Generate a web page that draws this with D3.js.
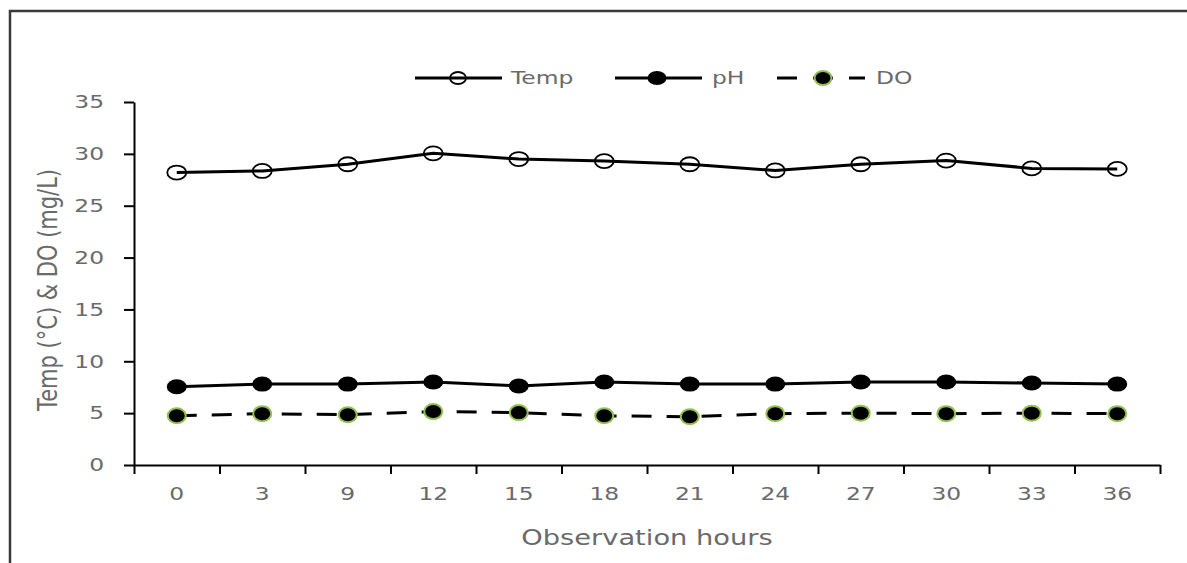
<!DOCTYPE html>
<html>
<head>
<meta charset="utf-8">
<script src="https://cdn.jsdelivr.net/npm/d3@7/dist/d3.min.js"></script>
<style>
  body { margin: 0; background: #fff; }
  svg { display: block; }
</style>
</head>
<body>
<svg id="chart" width="1187" height="563"></svg>
<script>
// ─── Data ────────────────────────────────────────────────────────────────────
const hours = ['0', '3', '9', '12', '15', '18', '21', '24', '27', '30', '33', '36'];
const tempValues = [28.2, 28.35, 29.0, 30.05, 29.5, 29.3, 29.0, 28.4, 29.0, 29.35, 28.6, 28.55];
const phValues = [7.55, 7.8, 7.8, 8.0, 7.62, 8.0, 7.8, 7.8, 8.0, 8.0, 7.9, 7.8];
const doValues = [4.75, 4.95, 4.85, 5.15, 5.05, 4.75, 4.65, 4.95, 5.0, 4.95, 5.0, 4.95];
const yTicks = [0, 5, 10, 15, 20, 25, 30, 35];

// ─── Layout ──────────────────────────────────────────────────────────────────
const W = 1187, H = 563;
const PLOT = { left: 134, right: 1160, top: 102, bottom: 465 };
const SX = 1.3;              // the source picture is stretched sideways
const GREY = '#6a6a6a';
const FONT = '"DejaVu Sans", Verdana, sans-serif';
const GREEN = '#92c050';

const svg = d3.select('#chart');

// frame (top and left edges of the original chart box)
svg.append('path')
  .attr('d', `M10,${H} V11 H${W}`)
  .attr('fill', 'none')
  .attr('stroke', '#3a3a3a')
  .attr('stroke-width', 2.5);

// ─── Scales ──────────────────────────────────────────────────────────────────
const x = d3.scaleBand().domain(hours).range([PLOT.left, PLOT.right]).padding(0);
const xEdge = d3.scaleLinear().domain([0, hours.length]).range([PLOT.left, PLOT.right]);
const y = d3.scaleLinear().domain([0, 35]).range([PLOT.bottom, PLOT.top]);
const cx = d => x(d) + x.bandwidth() / 2;

// stretched text helper
function label(g, tx, ty, str, size, anchor) {
  return g.append('text')
    .attr('transform', `translate(${tx},${ty}) scale(${SX},1)`)
    .attr('text-anchor', anchor || 'start')
    .style('font-family', FONT)
    .style('font-size', size + 'px')
    .style('fill', GREY)
    .text(str);
}

// ─── Axes ────────────────────────────────────────────────────────────────────
const yAxis = svg.append('g')
  .attr('transform', `translate(${PLOT.left},0)`)
  .call(d3.axisLeft(y).tickValues(yTicks).tickSize(10).tickSizeOuter(0).tickFormat(d3.format('d')));
yAxis.selectAll('path, line').attr('stroke', '#000').attr('stroke-width', 2);
yAxis.selectAll('text')
  .attr('x', -30 / SX)
  .attr('transform', `scale(${SX},1)`)
  .style('font-family', FONT)
  .style('font-size', '18px')
  .style('fill', GREY);

const xTicks = svg.append('g')
  .attr('transform', `translate(0,${PLOT.bottom})`)
  .call(d3.axisBottom(xEdge).tickValues(d3.range(hours.length + 1)).tickSize(9).tickSizeOuter(0).tickFormat(''));
xTicks.selectAll('path, line').attr('stroke', '#000').attr('stroke-width', 2);

const xLabels = svg.append('g')
  .attr('transform', `translate(0,${PLOT.bottom})`)
  .call(d3.axisBottom(x).tickSize(0).tickPadding(22));
xLabels.select('.domain').remove();
xLabels.selectAll('text')
  .attr('transform', `scale(${SX},1)`)
  .style('font-family', FONT)
  .style('font-size', '18px')
  .style('fill', GREY);

// axis titles
label(svg, (PLOT.left + PLOT.right) / 2, 545, 'Observation hours', 21, 'middle');
svg.append('text')
  .attr('transform', `translate(57,290) scale(${SX},1) rotate(-90)`)
  .attr('text-anchor', 'middle')
  .style('font-family', FONT)
  .style('font-size', '21px')
  .style('fill', GREY)
  .text('Temp (°C) & DO (mg/L)');

// ─── Series ──────────────────────────────────────────────────────────────────
const line = d3.line().x((d, i) => cx(hours[i])).y(d => y(d));

svg.append('path').datum(tempValues)
  .attr('d', line).attr('fill', 'none').attr('stroke', '#000').attr('stroke-width', 3);
svg.append('path').datum(phValues)
  .attr('d', line).attr('fill', 'none').attr('stroke', '#000').attr('stroke-width', 3);
svg.append('path').datum(doValues)
  .attr('d', line).attr('fill', 'none').attr('stroke', '#000').attr('stroke-width', 3)
  .attr('stroke-dasharray', '20,15');

svg.append('g').selectAll('ellipse').data(tempValues).join('ellipse')
  .attr('cx', (d, i) => cx(hours[i])).attr('cy', d => y(d))
  .attr('rx', 9.5).attr('ry', 7)
  .attr('fill', 'none').attr('stroke', '#000').attr('stroke-width', 1.8);

svg.append('g').selectAll('ellipse').data(phValues).join('ellipse')
  .attr('cx', (d, i) => cx(hours[i])).attr('cy', d => y(d))
  .attr('rx', 10).attr('ry', 7.5)
  .attr('fill', '#000');

svg.append('g').selectAll('ellipse').data(doValues).join('ellipse')
  .attr('cx', (d, i) => cx(hours[i])).attr('cy', d => y(d))
  .attr('rx', 9).attr('ry', 7.5)
  .attr('fill', '#000').attr('stroke', GREEN).attr('stroke-width', 2);

// ─── Legend ──────────────────────────────────────────────────────────────────
const LEG_Y = 78;
const legend = svg.append('g');

// Temp
legend.append('line').attr('x1', 415).attr('x2', 502).attr('y1', LEG_Y).attr('y2', LEG_Y)
  .attr('stroke', '#000').attr('stroke-width', 3);
legend.append('ellipse').attr('cx', 458).attr('cy', LEG_Y).attr('rx', 8).attr('ry', 6)
  .attr('fill', 'none').attr('stroke', '#000').attr('stroke-width', 1.8);
label(legend, 511, LEG_Y + 6, 'Temp', 18);

// pH
legend.append('line').attr('x1', 615).attr('x2', 702).attr('y1', LEG_Y).attr('y2', LEG_Y)
  .attr('stroke', '#000').attr('stroke-width', 3);
legend.append('ellipse').attr('cx', 657).attr('cy', LEG_Y).attr('rx', 9.5).attr('ry', 7)
  .attr('fill', '#000');
label(legend, 712, LEG_Y + 6, 'pH', 18);

// DO
legend.append('line').attr('x1', 777).attr('x2', 865).attr('y1', LEG_Y).attr('y2', LEG_Y)
  .attr('stroke', '#000').attr('stroke-width', 3).attr('stroke-dasharray', '20,16');
legend.append('ellipse').attr('cx', 823).attr('cy', LEG_Y).attr('rx', 8.5).attr('ry', 7)
  .attr('fill', '#000').attr('stroke', GREEN).attr('stroke-width', 2);
label(legend, 876, LEG_Y + 6, 'DO', 18);
</script>
</body>
</html>
